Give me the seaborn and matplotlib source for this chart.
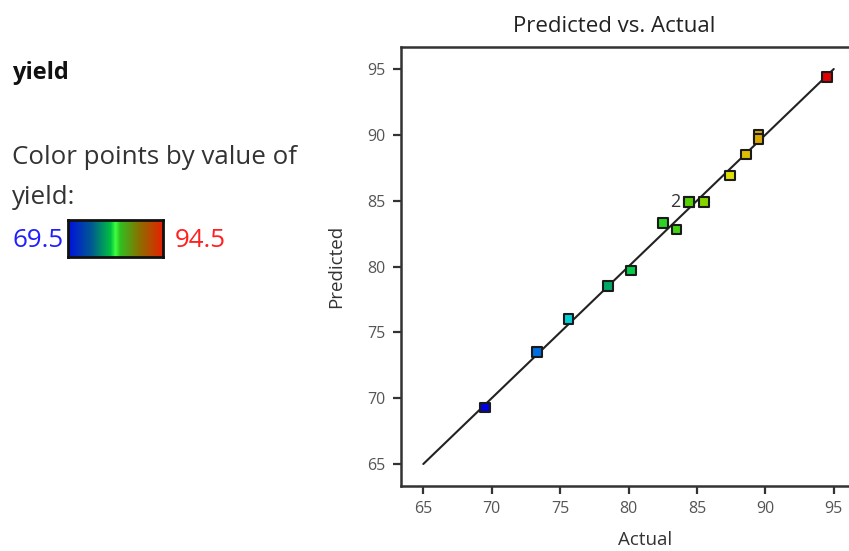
#!/usr/bin/env python3
"""Predicted vs. Actual plot for yield, points coloured by yield value."""

import numpy as np
import pandas as pd
import matplotlib
matplotlib.use('Agg')
import matplotlib.pyplot as plt
from matplotlib.colors import LinearSegmentedColormap, Normalize
import seaborn as sns

# run data (actual vs. predicted yield), two runs share the point at 84.4
actual = [69.5, 73.3, 75.6, 78.5, 80.2, 82.5, 83.5, 84.4, 84.4, 85.5,
          87.4, 88.6, 89.5, 89.5, 94.5]
predicted = [69.3, 73.5, 76.0, 78.5, 79.7, 83.3, 82.8, 84.9, 84.9, 84.9,
             86.9, 88.5, 90.0, 89.7, 94.4]
yield_range = [69.5, 94.5]
fit_line = [65, 95]
ticks = [65, 70, 75, 80, 85, 90, 95]

sns.set_style('white')
plt.rcParams['font.family'] = ['Open Sans', 'Noto Sans', 'DejaVu Sans']

# point colours: blue -> cyan -> green -> yellow -> red
point_cmap = LinearSegmentedColormap.from_list('pts', [
    (0.00, '#0000e0'), (0.15, '#0070e0'), (0.25, '#00d8d8'),
    (0.36, '#00a868'), (0.45, '#00d840'), (0.60, '#58d000'),
    (0.72, '#e0e000'), (0.80, '#d8a800'), (1.00, '#e00000')])
# legend bar is darker in the middle ranges
bar_cmap = LinearSegmentedColormap.from_list('bar', [
    (0.00, '#0010e0'), (0.25, '#005a90'), (0.45, '#00c040'),
    (0.50, '#40ff40'), (0.55, '#30c020'), (0.75, '#8a7000'),
    (1.00, '#e82000')])

df = pd.DataFrame({'Actual': actual, 'Predicted': predicted})

fig = plt.figure(figsize=(8.49, 5.51), dpi=100)
# the plot frame runs past the right edge of the picture
ax = fig.add_axes([401 / 849, 1 - 486 / 551, 489 / 849, 439.5 / 551])

sns.lineplot(x=fit_line, y=fit_line, color='#222222', lw=1.5, ax=ax)
sns.scatterplot(data=df, x='Actual', y='Predicted', hue='Actual',
                palette=point_cmap, hue_norm=Normalize(*yield_range),
                marker='s', s=48, edgecolor='#1a1a1a', linewidth=1.5,
                legend=False, ax=ax, zorder=3)

# label overlapping runs with their count
counts = df.groupby(['Actual', 'Predicted']).size()
for (xa, yp), n in counts.items():
    if n > 1:
        ax.text(xa - 0.6, yp, str(n), ha='right', va='center',
                fontsize=13, color='#333333')

ax.set_xlim(63.37, 99.11)
ax.set_ylim(63.33, 96.71)
ax.set_xticks(ticks)
ax.set_yticks(ticks)
ax.tick_params(direction='out', length=6, width=1.6, color='#333333',
               labelsize=11.5, labelcolor='#555555', bottom=True, left=True,
               pad=5)
for sp in ax.spines.values():
    sp.set_linewidth(1.8)
    sp.set_color('#333333')
ax.spines['right'].set_visible(False)
ax.set_xlabel('Actual', fontsize=13.5, color='#333333', labelpad=10)
ax.set_ylabel('Predicted', fontsize=13.5, color='#333333', labelpad=16)
fig.text(614 / 849, 1 - 27 / 551, 'Predicted vs. Actual', ha='center',
         va='center', fontsize=16, color='#222222')

# left-hand legend panel
fig.text(12 / 849, 1 - 73 / 551, 'yield', fontsize=17, fontweight='bold',
         va='center', color='#111111')
fig.text(12 / 849, 1 - 157 / 551, 'Color points by value of', fontsize=18.6,
         va='center', color='#333333')
fig.text(12 / 849, 1 - 197 / 551, 'yield:', fontsize=18.6, va='center',
         color='#333333')
fig.text(12 / 849, 1 - 240 / 551, f'{yield_range[0]}', fontsize=18.6,
         va='center', color='#2020ff')
fig.text(175 / 849, 1 - 240 / 551, f'{yield_range[1]}', fontsize=18.6,
         va='center', color='#ff2020')

cax = fig.add_axes([68 / 849, 1 - 257 / 551, 95 / 849, 37 / 551])
cax.imshow(np.linspace(0, 1, 256)[None, :], aspect='auto', cmap=bar_cmap)
cax.set_xticks([])
cax.set_yticks([])
for sp in cax.spines.values():
    sp.set_linewidth(2)
    sp.set_color('#111111')

fig.savefig('out.png', dpi=100)
